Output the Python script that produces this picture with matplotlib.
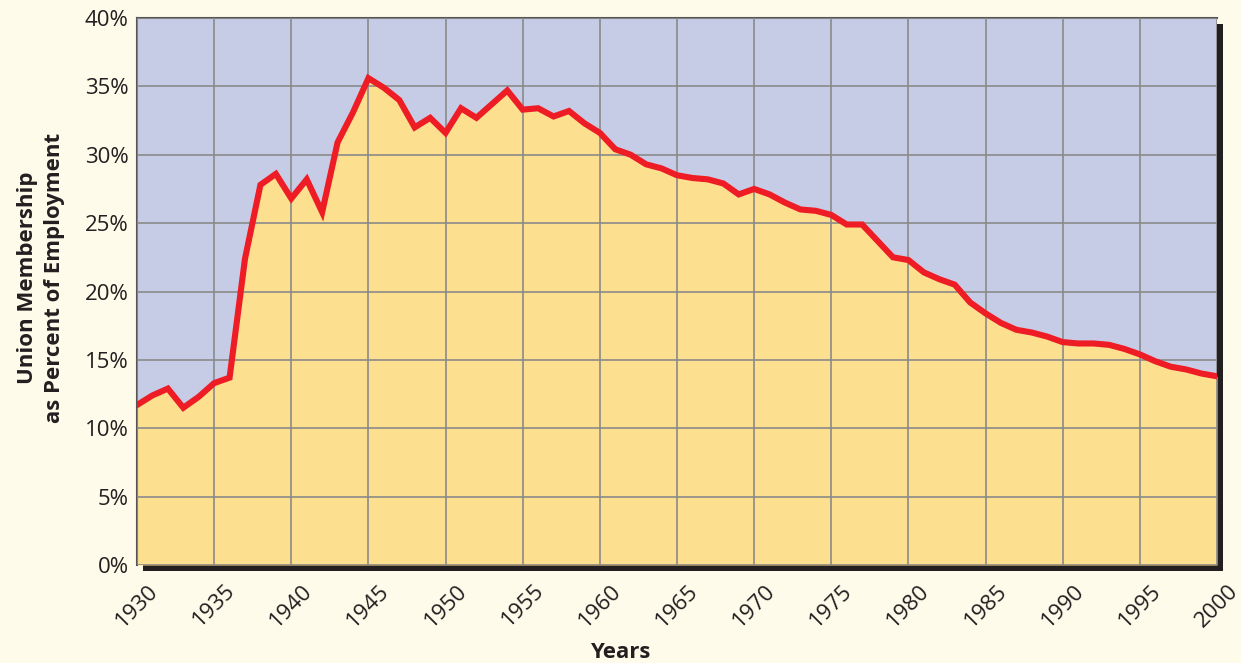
import matplotlib
matplotlib.use("Agg")
from matplotlib import pyplot
from matplotlib.patches import Rectangle
import numpy as np

# Union membership as % of employment
years = list(range(1930, 2001))
union_pct = [
    11.7, 12.4, 12.9, 11.5, 12.3, 13.3, 13.7, 22.4, 27.8, 28.6,  # 1930s
    26.8, 28.2, 25.8, 30.9, 33.1, 35.6, 34.9, 34.0, 32.0, 32.7,  # 1940s
    31.6, 33.4, 32.7, 33.7, 34.7, 33.3, 33.4, 32.8, 33.2, 32.3,  # 1950s
    31.6, 30.4, 30.0, 29.3, 29.0, 28.5, 28.3, 28.2, 27.9, 27.1,  # 1960s
    27.5, 27.1, 26.5, 26.0, 25.9, 25.6, 24.9, 24.9, 23.7, 22.5,  # 1970s
    22.3, 21.4, 20.9, 20.5, 19.2, 18.4, 17.7, 17.2, 17.0, 16.7,  # 1980s
    16.3, 16.2, 16.2, 16.1, 15.8, 15.4, 14.9, 14.5, 14.3, 14.0,  # 1990s
    13.8,
]
x_ticks = list(range(1930, 2001, 5))
y_ticks = list(range(0, 41, 5))

BG = "#fefbea"
SKY = "#c7cce6"
FILL = "#fde08f"
RED = "#ee1c25"
GRID = "#8a8a8a"
INK = "#231f20"

W, H = 1241, 663
fig = pyplot.figure(figsize=(W / 100, H / 100), dpi=100, facecolor=BG)

left, right, top, bottom = 137, 1217, 18, 565
ax = fig.add_axes(
    [left / W, 1 - bottom / H, (right - left) / W, (bottom - top) / H]
)

# drop shadow behind the plot area
off = 6
fig.patches.append(
    Rectangle(
        ((left + off) / W, 1 - (bottom + off) / H),
        (right - left) / W,
        (bottom - top) / H,
        transform=fig.transFigure,
        facecolor=INK,
        edgecolor="none",
        zorder=-1,
    )
)

ax.set_facecolor(SKY)
ax.fill_between(years, union_pct, 0, color=FILL, linewidth=0, zorder=1)
ax.plot(years, union_pct, color=RED, lw=4.4, zorder=3, solid_joinstyle="miter")

ax.set_xlim(1930, 2000)
ax.set_ylim(0, 40)
ax.set_xticks(x_ticks)
ax.set_yticks(y_ticks)
ax.set_yticklabels([f"{v}%" for v in y_ticks])
ax.grid(True, color=GRID, lw=1.2, zorder=2)
ax.set_axisbelow(False)
ax.tick_params(length=0, labelsize=16, colors=INK)
ax.tick_params(axis="x", pad=11)
ax.tick_params(axis="y", pad=6)
for lbl in ax.get_xticklabels():
    lbl.set_rotation(45)
    lbl.set_ha("center")
    lbl.set_va("top")
for lbl in ax.get_xticklabels() + ax.get_yticklabels():
    lbl.set_family("Open Sans")

for s in ("left", "top"):
    ax.spines[s].set_color("#555555")
    ax.spines[s].set_linewidth(1.5)
for s in ("right", "bottom"):
    ax.spines[s].set_visible(False)

ax.set_xlabel("Years", fontsize=16, fontweight="bold", family="Open Sans",
              color=INK)
ax.xaxis.set_label_coords(0.447, -0.14)
fig.text(41 / W, 1 - 278 / H, "Union Membership\nas Percent of Employment",
         rotation=90, ha="center", va="center", fontsize=16,
         fontweight="bold", family="Open Sans", color=INK, linespacing=1.35)

fig.savefig("out.png", dpi=100, facecolor=BG)
